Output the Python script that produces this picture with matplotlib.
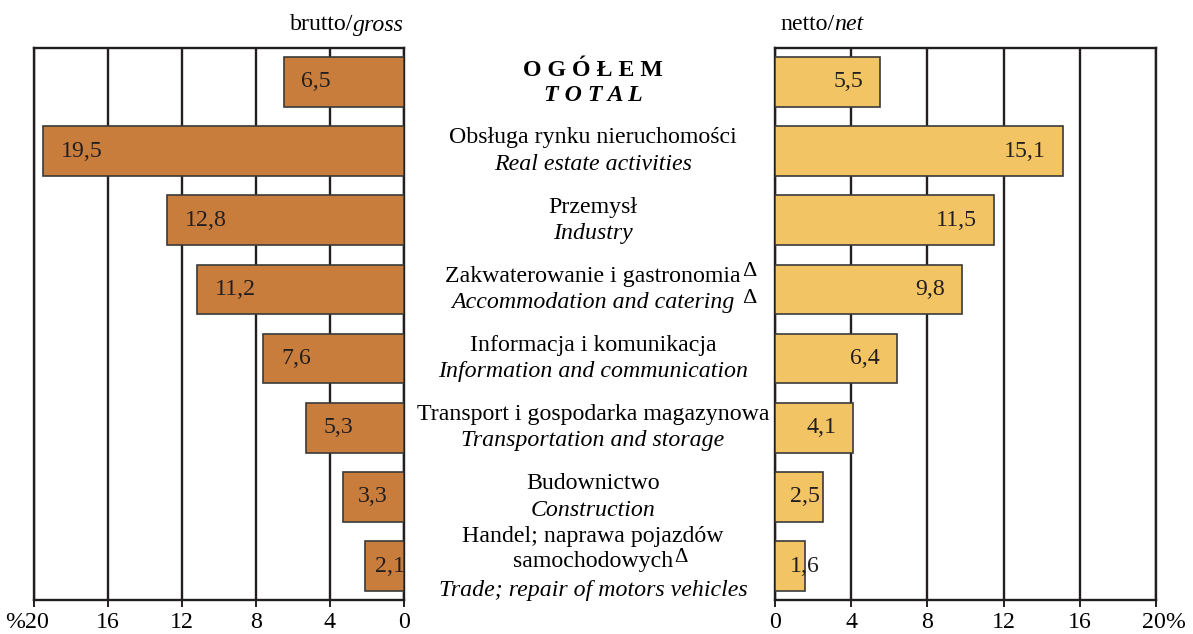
import numpy as np
import matplotlib.pyplot as plt
from matplotlib import transforms

plt.rcParams['font.family'] = ['Liberation Serif', 'DejaVu Serif']

# data
labels_pl = ['O G Ó Ł E M', 'Obsługa rynku nieruchomości', 'Przemysł',
             'Zakwaterowanie i gastronomia', 'Informacja i komunikacja',
             'Transport i gospodarka magazynowa', 'Budownictwo',
             'Handel; naprawa pojazdów\nsamochodowych']
labels_en = ['T O T A L', 'Real estate activities', 'Industry',
             'Accommodation and catering', 'Information and communication',
             'Transportation and storage', 'Construction',
             'Trade; repair of motors vehicles']
gross = [6.5, 19.5, 12.8, 11.2, 7.6, 5.3, 3.3, 2.1]
net = [5.5, 15.1, 11.5, 9.8, 6.4, 4.1, 2.5, 1.6]
ticks = [0, 4, 8, 12, 16, 20]

brown = '#C87D3D'
yellow = '#F3C463'
line_c = '#231f20'
fs = 17.2

fig = plt.figure(figsize=(11.93, 6.34), dpi=100)
axl = fig.add_axes([34/1193, 34/634, 370/1193, 552/634])
axr = fig.add_axes([775/1193, 34/634, 381/1193, 552/634])

y = np.arange(len(gross))
for ax, vals, col in [(axl, gross, brown), (axr, net, yellow)]:
    ax.barh(y, vals, height=0.72, color=col, edgecolor='#3a3a3a', lw=1.2, zorder=3)
    ax.set_xlim(0, 20)
    ax.set_ylim(7.49, -0.49)
    ax.set_xticks(ticks)
    ax.set_yticks([])
    ax.grid(axis='x', color=line_c, lw=1.7, zorder=0)
    for s in ['top', 'bottom', 'left', 'right']:
        ax.spines[s].set_color(line_c)
        ax.spines[s].set_linewidth(1.7)
    ax.tick_params(axis='x', length=5, width=1.4, color=line_c,
                   labelsize=fs, pad=4)

axl.invert_xaxis()
axl.set_xticklabels(['0', '4', '8', '12', '16', '%20'])
axr.set_xticklabels(['0', '4', '8', '12', '16', '20%'])

# keep the digits of the "20" labels centred on the tick
for lab, dx in [(axl.get_xticklabels()[-1], -7), (axr.get_xticklabels()[-1], 8)]:
    lab.set_transform(lab.get_transform() +
                      transforms.ScaledTranslation(dx / 100, 0, fig.dpi_scale_trans))

# value labels
for i, v in enumerate(gross):
    axl.text(v - min(0.95, 0.25 * v), i, f'{v:.1f}'.replace('.', ','), ha='left',
             va='center', fontsize=fs, color='#231f20', zorder=4)
for i, v in enumerate(net):
    axr.text(max(v - 0.88, 2.35), i, f'{v:.1f}'.replace('.', ','), ha='right',
             va='center', fontsize=fs, color='#231f20', zorder=4)

r = fig.canvas.get_renderer()

# panel headers
t = fig.text(404/1193, 1 - 25/634, 'gross', ha='right', va='center',
             fontsize=fs, style='italic')
bb = t.get_window_extent(r)
fig.text(bb.x0 / 1193, 1 - 25/634, 'brutto/', ha='right', va='center', fontsize=fs)
t = fig.text(780/1193, 1 - 25/634, 'netto/', ha='left', va='center', fontsize=fs)
bb = t.get_window_extent(r)
fig.text(bb.x1 / 1193, 1 - 25/634, 'net', ha='left', va='center',
         fontsize=fs, style='italic')

# category labels in the middle
trans = transforms.blended_transform_factory(fig.transFigure, axl.transData)
cx = 593/1193
for i, (pl, en) in enumerate(zip(labels_pl, labels_en)):
    if i == 0:
        fig.text(cx, i - 0.16, pl, transform=trans, ha='center',
                 va='center', fontsize=fs, fontweight='bold')
        fig.text(cx, i + 0.2, en, transform=trans, ha='center',
                 va='center', fontsize=fs, fontweight='bold', style='italic')
    elif i == 7:
        l1, l2 = pl.split('\n')
        fig.text(cx, i - 0.43, l1, transform=trans, ha='center',
                 va='center', fontsize=fs)
        a = fig.text(cx, i - 0.06, l2, transform=trans, ha='center',
                     va='center', fontsize=fs)
        fig.text(cx, i + 0.35, en, transform=trans, ha='center',
                 va='center', fontsize=fs, style='italic')
        bb = a.get_window_extent(r)
        fig.text((bb.x1 + 1) / 1193, (bb.y1 - 6) / 634, 'Δ', ha='left',
                 va='center', fontsize=15)
    else:
        a = fig.text(cx, i - 0.19, pl, transform=trans, ha='center',
                     va='center', fontsize=fs)
        b = fig.text(cx, i + 0.19, en, transform=trans, ha='center',
                     va='center', fontsize=fs, style='italic')
        if i == 3:
            ba = a.get_window_extent(r)
            bb = b.get_window_extent(r)
            xd = max(ba.x1, bb.x1) + 1
            for box in (ba, bb):
                fig.text(xd / 1193, (box.y1 - 6) / 634, 'Δ', ha='left',
                         va='center', fontsize=16)

fig.savefig('out.png', dpi=100)
